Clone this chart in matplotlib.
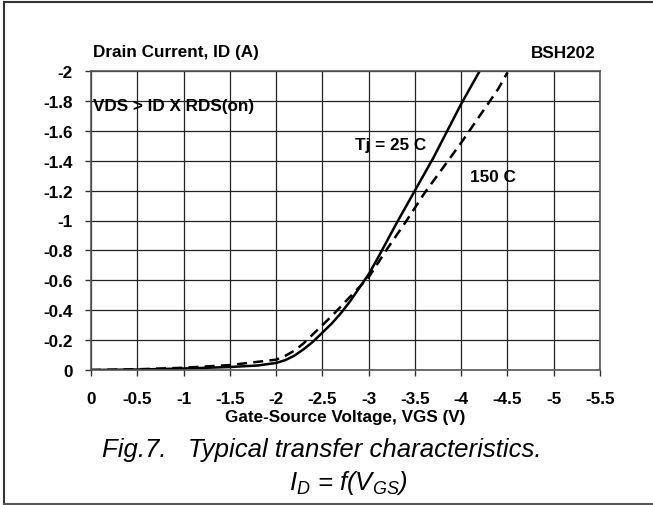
import matplotlib
matplotlib.use("Agg")
import matplotlib.pyplot as plt

plt.rcParams['font.family'] = ['Liberation Sans', 'DejaVu Sans']
plt.rcParams['mathtext.fontset'] = 'custom'
plt.rcParams['mathtext.rm'] = 'Liberation Sans'
plt.rcParams['mathtext.it'] = 'Liberation Sans:italic'

# Tj = 25 C (solid)
vgs_25 = [0, -0.5, -1.0, -1.5, -1.8, -2.0, -2.1, -2.2, -2.3, -2.4, -2.5, -2.6,
          -2.7, -2.8, -2.9, -3.0, -3.1, -3.2, -3.3, -3.4, -3.5, -3.6, -3.7,
          -3.8, -3.9, -4.0, -4.1, -4.2]
id_25 = [0, -0.003, -0.01, -0.02, -0.03, -0.047, -0.066, -0.097, -0.14,
         -0.19, -0.25, -0.31, -0.38, -0.46, -0.55, -0.64, -0.75, -0.865,
         -0.98, -1.09, -1.20, -1.31, -1.42, -1.54, -1.66, -1.78, -1.89, -2.0]

# Tj = 150 C (dashed)
vgs_150 = [0, -0.5, -1.0, -1.5, -2.0, -2.1, -2.2, -2.3, -2.4, -2.5, -2.6, -2.8,
           -3.0, -3.2, -3.4, -3.6, -3.8, -4.0, -4.2, -4.4, -4.5]
id_150 = [0, -0.005, -0.015, -0.033, -0.069, -0.095, -0.13, -0.18, -0.24,
          -0.30, -0.36, -0.49, -0.62, -0.81, -0.99, -1.18, -1.35, -1.52,
          -1.70, -1.88, -1.99]

x_ticks = [0, -0.5, -1, -1.5, -2, -2.5, -3, -3.5, -4, -4.5, -5, -5.5]
x_labels = ["0", "-0.5", "-1", "-1.5", "-2", "-2.5", "-3", "-3.5", "-4",
            "-4.5", "-5", "-5.5"]
y_ticks = [0, -0.2, -0.4, -0.6, -0.8, -1.0, -1.2, -1.4, -1.6, -1.8, -2.0]
y_labels = ["0", "-0.2", "-0.4", "-0.6", "-0.8", "-1", "-1.2", "-1.4",
            "-1.6", "-1.8", "-2"]

W, H = 653, 506
fig = plt.figure(figsize=(W / 100, H / 100), dpi=100)
ax = fig.add_axes([91 / W, 1 - 371 / H, 509 / W, 299 / H])

ax.plot(vgs_25, id_25, color='black', lw=1.8)
ax.plot(vgs_150, id_150, color='black', lw=1.8, ls=(0, (4, 2.5)))

ax.set_xlim(0, -5.5)
ax.set_ylim(0, -2)
ax.set_xticks(x_ticks)
ax.set_xticklabels(x_labels)
ax.set_yticks(y_ticks)
ax.set_yticklabels(y_labels)
ax.grid(True, color='#222222', lw=0.9)
ax.set_axisbelow(True)
for s in ax.spines.values():
    s.set_color('#555555')
    s.set_linewidth(1.2)
ax.tick_params(axis='both', direction='out', length=4, width=1, color='#333333',
               labelsize=12.3)
ax.tick_params(axis='x', pad=11)
ax.tick_params(axis='y', pad=9)
for lab in ax.get_xticklabels() + ax.get_yticklabels():
    lab.set_fontweight('bold')

ax.set_xlabel("Gate-Source Voltage, VGS (V)", fontsize=12.3, fontweight='bold',
              labelpad=2)

ax.text(-0.02, -1.77, "VDS > ID X RDS(on)", fontsize=12.3, fontweight='bold',
        va='center', ha='left')
ax.text(-2.85, -1.51, "Tj = 25 C", fontsize=12.3, fontweight='bold',
        va='center', ha='left')
ax.text(-4.09, -1.295, "150 C", fontsize=12.3, fontweight='bold',
        va='center', ha='left')

fig.text(93 / W, 1 - 53 / H, "Drain Current, ID (A)", fontsize=12.3,
         fontweight='bold', va='center', ha='left')
fig.text(596 / W, 1 - 53 / H, "BSH202", fontsize=12.3, fontweight='bold',
         va='center', ha='right')

fig.text(102 / W, 1 - 457 / H, "Fig.7.   Typical transfer characteristics.",
         fontsize=18.5, style='italic', va='baseline', ha='left')
fig.text(348 / W, 1 - 490 / H, r"$I_D$ = f($V_{GS}$)",
         fontsize=18.5, style='italic', va='baseline', ha='center')

# frame around the figure
fig.add_artist(plt.Line2D([4 / W, 4 / W], [0, 1 - 3 / H], color='#333333',
                          lw=1.5, transform=fig.transFigure))
fig.add_artist(plt.Line2D([4 / W, 1], [1 - 3 / H, 1 - 3 / H], color='#333333',
                          lw=1.5, transform=fig.transFigure))
fig.add_artist(plt.Line2D([4 / W, 1], [1 - 505 / H, 1 - 505 / H],
                          color='#555555', lw=1.5, transform=fig.transFigure))

fig.savefig("out.png", dpi=100)
